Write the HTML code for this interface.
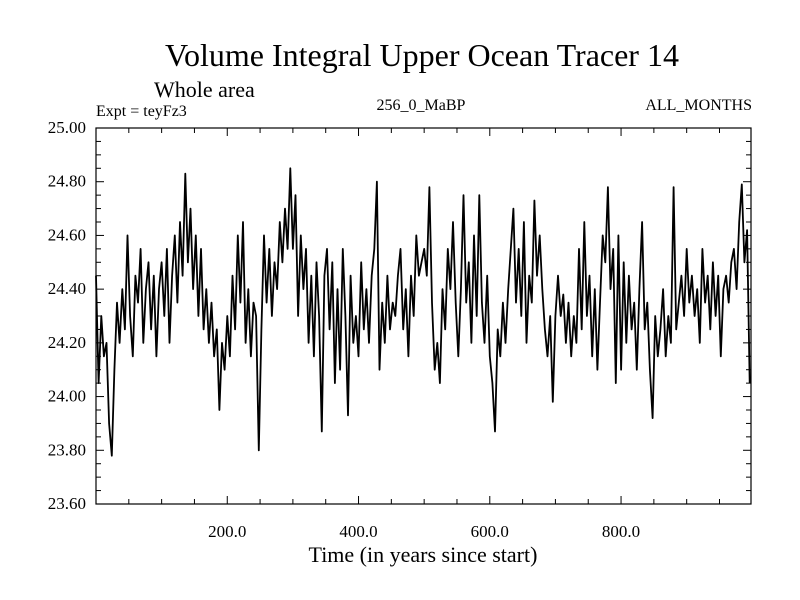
<!DOCTYPE html>
<html><head><meta charset="utf-8"><style>
body{margin:0;background:#fff}
svg{display:block;font-family:"Liberation Serif",serif}
</style></head><body>
<svg id="c" width="800" height="600">
<text x="422" y="66" font-size="32" text-anchor="middle">Volume Integral Upper Ocean Tracer 14</text>
<text x="154" y="97" font-size="22">Whole area</text>
<text x="96" y="116" font-size="16">Expt = teyFz3</text>
<text x="421" y="110" font-size="16" text-anchor="middle">256_0_MaBP</text>
<text x="752" y="110" font-size="16" text-anchor="end">ALL_MONTHS</text>
<text x="423" y="562" font-size="22" text-anchor="middle">Time (in years since start)</text>
<g id="axes"></g>
<path id="line" fill="none" stroke="#000" stroke-width="1.8" stroke-linejoin="round"/>
<rect x="96" y="128" width="655" height="376" fill="none" stroke="#000" stroke-width="1.2"/>
</svg>
<script>
const yearStart = 0;
const yearStep = 4;
const values = [
24.45,24.05,24.30,24.15,24.20,23.90,23.78,24.10,24.35,24.20,24.40,24.25,24.60,24.30,24.15,24.45,24.35,24.55,24.20,24.40,24.50,24.25,24.45,24.15,24.40,
24.50,24.30,24.55,24.20,24.45,24.60,24.35,24.65,24.45,24.83,24.50,24.70,24.40,24.60,24.30,24.55,24.25,24.40,24.20,24.35,24.15,24.25,23.95,24.20,24.10,
24.30,24.15,24.45,24.25,24.60,24.35,24.65,24.20,24.40,24.15,24.35,24.30,23.80,24.25,24.60,24.35,24.55,24.30,24.50,24.40,24.65,24.50,24.70,24.55,24.85,
24.55,24.75,24.30,24.60,24.40,24.55,24.20,24.45,24.15,24.50,24.30,23.87,24.45,24.55,24.25,24.50,24.05,24.40,24.10,24.55,24.30,23.93,24.45,24.20,24.30,
24.15,24.50,24.25,24.40,24.20,24.45,24.55,24.80,24.10,24.35,24.20,24.45,24.25,24.35,24.30,24.45,24.55,24.25,24.40,24.15,24.45,24.30,24.60,24.45,24.50,
24.55,24.45,24.78,24.35,24.10,24.20,24.05,24.40,24.25,24.55,24.40,24.65,24.35,24.15,24.40,24.75,24.35,24.50,24.20,24.60,24.30,24.75,24.35,24.20,24.45,
24.15,24.05,23.87,24.25,24.15,24.35,24.20,24.40,24.55,24.70,24.35,24.55,24.30,24.65,24.20,24.45,24.35,24.73,24.45,24.60,24.40,24.25,24.15,24.30,23.98,
24.30,24.45,24.30,24.38,24.20,24.35,24.15,24.30,24.20,24.55,24.25,24.65,24.30,24.45,24.15,24.40,24.10,24.35,24.60,24.50,24.78,24.40,24.55,24.05,24.60,
24.10,24.50,24.20,24.45,24.25,24.35,24.10,24.40,24.65,24.25,24.35,24.10,23.92,24.30,24.15,24.25,24.40,24.15,24.30,24.20,24.78,24.25,24.35,24.45,24.30,
24.55,24.35,24.45,24.30,24.40,24.20,24.55,24.35,24.45,24.25,24.50,24.30,24.45,24.15,24.40,24.45,24.35,24.50,24.55,24.40,24.65,24.79,24.50,24.62,24.05];
const yTicks = [23.6,23.8,24.0,24.2,24.4,24.6,24.8,25.0];
const yTickLabels = ["23.60","23.80","24.00","24.20","24.40","24.60","24.80","25.00"];
const xTicks = [200,400,600,800];
const xTickLabels = ["200.0","400.0","600.0","800.0"];

const L=96,R=751,T=128,B=504, X0=0,X1=998, Y0=23.6,Y1=25.0;
const sx=v=>L+(v-X0)/(X1-X0)*(R-L);
const sy=v=>B-(v-Y0)/(Y1-Y0)*(B-T);
const NS='http://www.w3.org/2000/svg';
const ax=document.getElementById('axes');
function ln(x1,y1,x2,y2,name){const l=document.createElementNS(NS,'line');
l.setAttribute('x1',x1);l.setAttribute('y1',y1);l.setAttribute('x2',x2);l.setAttribute('y2',y2);
l.setAttribute('stroke','#000');l.setAttribute('stroke-width','1');


ax.appendChild(l);}
function tx(x,y,s,anc,name){const t=document.createElementNS(NS,'text');
t.setAttribute('x',x);t.setAttribute('y',y);t.setAttribute('font-size','17');t.setAttribute('text-anchor',anc);t.textContent=s;


ax.appendChild(t);}
for(let v=50;v<X1;v+=50){const x=sx(v);const maj=v%200===0;const len=maj?8:5;
ln(x,B,x,B-len,'x-tick');ln(x,T,x,T+len,'x-tick-top');}
for(let k=1;k<28;k++){const v=Y0+k*0.05;const y=sy(v);const maj=k%4===0;const len=maj?8:5;
ln(L,y,L+len,y,'y-tick');ln(R,y,R-len,y,'y-tick-right');}
yTicks.forEach((v,i)=>tx(86,sy(v)+5,yTickLabels[i],'end','y-tick-label'));
xTicks.forEach((v,i)=>tx(sx(v),B+33,xTickLabels[i],'middle','x-tick-label'));
let d='';values.forEach((v,i)=>{const yr=yearStart+i*yearStep;d+=(i?'L':'M')+sx(yr).toFixed(1)+','+sy(v).toFixed(1);});
document.getElementById('line').setAttribute('d',d);
</script>
</body></html>
